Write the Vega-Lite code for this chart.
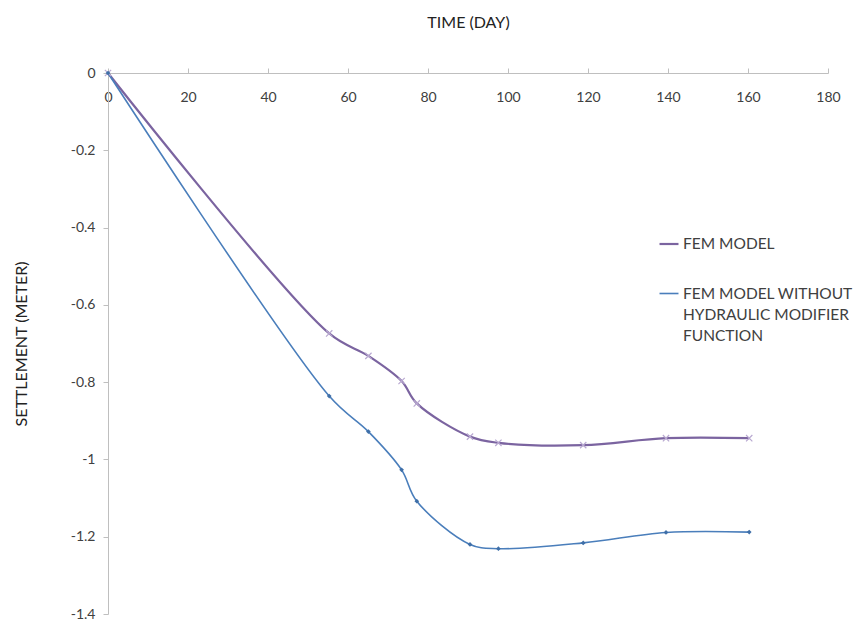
{
  "$schema": "https://vega.github.io/schema/vega-lite/v6.json",
  "width": 720,
  "height": 541,
  "autosize": {"type": "none"},
  "padding": {"left": 108, "top": 73, "right": 25, "bottom": 9},
  "background": "white",
  "config": {
    "view": {"stroke": null},
    "font": "Lato",
    "style": {"guide-label": {"lineHeight": 21}},
    "axis": {"labelFont": "Lato", "titleFont": "Lato", "labelColor": "#404040", "titleColor": "#222222", "labelFontSize": 14, "titleFontSize": 16, "titleFontWeight": "normal", "domainColor": "#bfbfbf", "tickColor": "#bfbfbf", "grid": false}
  },
  "data": {
    "values": [
      {"day": 0, "s": 0, "series": "FEM MODEL"},
      {"day": 55.3, "s": -0.674, "series": "FEM MODEL"},
      {"day": 65.1, "s": -0.732, "series": "FEM MODEL"},
      {"day": 73.4, "s": -0.797, "series": "FEM MODEL"},
      {"day": 77.2, "s": -0.855, "series": "FEM MODEL"},
      {"day": 90.5, "s": -0.941, "series": "FEM MODEL"},
      {"day": 97.6, "s": -0.957, "series": "FEM MODEL"},
      {"day": 118.8, "s": -0.963, "series": "FEM MODEL"},
      {"day": 139.5, "s": -0.945, "series": "FEM MODEL"},
      {"day": 160.3, "s": -0.945, "series": "FEM MODEL"},
      {"day": 0, "s": 0, "series": "FEM MODEL WITHOUT HYDRAULIC MODIFIER FUNCTION"},
      {"day": 55.3, "s": -0.836, "series": "FEM MODEL WITHOUT HYDRAULIC MODIFIER FUNCTION"},
      {"day": 65.1, "s": -0.928, "series": "FEM MODEL WITHOUT HYDRAULIC MODIFIER FUNCTION"},
      {"day": 73.4, "s": -1.027, "series": "FEM MODEL WITHOUT HYDRAULIC MODIFIER FUNCTION"},
      {"day": 77.2, "s": -1.108, "series": "FEM MODEL WITHOUT HYDRAULIC MODIFIER FUNCTION"},
      {"day": 90.5, "s": -1.22, "series": "FEM MODEL WITHOUT HYDRAULIC MODIFIER FUNCTION"},
      {"day": 97.6, "s": -1.231, "series": "FEM MODEL WITHOUT HYDRAULIC MODIFIER FUNCTION"},
      {"day": 118.8, "s": -1.216, "series": "FEM MODEL WITHOUT HYDRAULIC MODIFIER FUNCTION"},
      {"day": 139.5, "s": -1.189, "series": "FEM MODEL WITHOUT HYDRAULIC MODIFIER FUNCTION"},
      {"day": 160.3, "s": -1.188, "series": "FEM MODEL WITHOUT HYDRAULIC MODIFIER FUNCTION"}
    ]
  },
  "encoding": {
    "x": {
      "field": "day", "type": "quantitative",
      "scale": {"domain": [0, 180], "nice": false, "zero": false},
      "axis": {"orient": "top", "title": "TIME (DAY)", "values": [0, 20, 40, 60, 80, 100, 120, 140, 160, 180], "tickSize": 5, "labelPadding": -36, "titleY": -43, "titleBaseline": "bottom", "labelFlush": false, "labelOverlap": false}
    },
    "y": {
      "field": "s", "type": "quantitative",
      "scale": {"domain": [-1.4, 0], "nice": false},
      "axis": {"title": "SETTLEMENT (METER)", "values": [0, -0.2, -0.4, -0.6, -0.8, -1, -1.2, -1.4], "labelExpr": "'' + datum.value", "tickSize": 5, "labelPadding": 8, "titlePadding": 41, "labelFlush": false, "labelOverlap": false}
    }
  },
  "layer": [
    {
      "mark": {"type": "line", "interpolate": "catmull-rom"},
      "encoding": {
        "color": {
          "field": "series", "type": "nominal",
          "scale": {"domain": ["FEM MODEL", "FEM MODEL WITHOUT HYDRAULIC MODIFIER FUNCTION"], "range": ["#7b64a0", "#4a7ebb"]},
          "legend": {
            "title": null, "orient": "none", "legendX": 550, "legendY": 160,
            "symbolType": "stroke", "symbolSize": 360, "symbolStrokeWidth": 2,
            "labelFont": "Lato", "labelFontSize": 15.5, "labelColor": "#404040", "labelLimit": 300,
            "labelExpr": "datum.label == 'FEM MODEL' ? datum.label : ['FEM MODEL WITHOUT', 'HYDRAULIC MODIFIER', 'FUNCTION']",
            "rowPadding": 30, "labelOffset": 3
          }
        },
        "strokeWidth": {
          "field": "series", "type": "nominal",
          "scale": {"domain": ["FEM MODEL", "FEM MODEL WITHOUT HYDRAULIC MODIFIER FUNCTION"], "range": [2.2, 1.6]},
          "legend": null
        }
      }
    },
    {
      "transform": [{"filter": "datum.series == 'FEM MODEL'"}],
      "mark": {"type": "point", "filled": false, "opacity": 1, "shape": "M-1,-1L1,1M-1,1L1,-1", "stroke": "#b9a9d1", "size": 40, "strokeWidth": 1.2}
    },
    {
      "transform": [{"filter": "datum.series != 'FEM MODEL'"}],
      "mark": {"type": "point", "filled": true, "opacity": 1, "shape": "diamond", "color": "#3f6fa8", "size": 22}
    }
  ]
}
